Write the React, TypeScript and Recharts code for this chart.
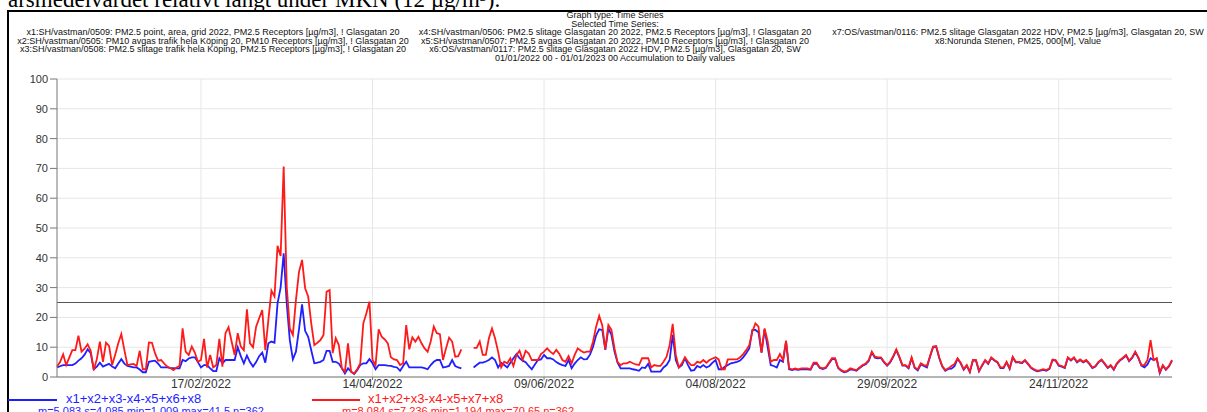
import React from 'react'
import { LineChart, Line, XAxis, YAxis, CartesianGrid, ReferenceLine } from 'recharts'

// daily PM2.5 sums, 2022-01-01 .. 2022-12-31 (null = missing day)
const sumWithX6: (number | null)[] = [
  3.2, 3.6, 4, 4, 4, 4, 4.5, 5.5, 6.3, 7.5,
  9.3, 8, 2.6, 3.5, 4.8, 3.5, 4, 4.4, 3.5, 2.9,
  4.5, 6, 4.5, 3.7, 3.5, 3.2, 3.2, 2.5, 1.6, 1.6,
  5.1, 5.3, 5.5, 4.5, 3.2, 3.2, 3.2, 3, 3, 2.9,
  2.9, 5.7, 5.3, 6.2, 6.6, 6.6, 5, 3.2, 4, 4,
  2.9, 2, 2, 6.3, 4.6, 5.7, 5.7, 5.7, 5.7, 10,
  7, 4.6, 7.2, 5, 3.5, 5, 7, 8.2, 4.8, 11.3,
  11.9, 11.5, 24.7, 30, 41.5, 24.7, 12.4, 5.9, 8.5, 16,
  24.4, 15.5, 13.5, 9, 4.6, 4.8, 5.1, 5.7, 8.8, 8.8,
  5.1, 5.1, 4.5, 2.9, 1.2, 2.9, 1.8, 1.009, 2.3, 4,
  4.6, 4.6, 6, 4.6, 2.6, 4, 4, 4, 3.8, 3.7,
  3.4, 3.2, 2.1, 3.7, 5.1, 3.2, 3.2, 3.2, 3.2, 3.2,
  3, 2.6, 4, 5.1, 5.7, 5.7, 3.2, 3.4, 3.7, 5.7,
  3.7, 3.2, 2.9, null, null, null, 3.2, 4, 4.8, 4.8,
  5.2, 5.7, 6.6, 5.7, 3.2, 4.8, 4, 3.2, 4.8, 6.3,
  7.7, 6.3, 5.5, 5, 3.7, 2.6, 4.2, 5.7, 5.9, 7.4,
  6.3, 6.3, 5.9, 5, 4.4, 4, 3.7, 5.7, 2.9, 4.5,
  5.7, 6.6, 5.9, 6, 7.5, 10.2, 14, 16, 15.8, 9.1,
  16.3, 14.1, 8.5, 4.8, 2.9, 2.9, 2.9, 2.9, 2.6, 2.4,
  2.1, 3.2, 3, 4.4, 1.8, 1.8, 1.8, 1.8, 3.2, 4,
  5.7, 14.1, 5.7, 3.2, 4, 6.3, 4, 2.1, 2.3, 3.7,
  3.2, 4, 3.2, 3.7, 4.8, 5.7, 2.6, 2.6, 3.4, 4,
  4.6, 4.8, 5.1, 5.5, 6.6, 8, 9.6, 15.8, 15.8, 15,
  8.2, 16, 10, 4, 3.7, 3.2, 5.7, 5.1, 11.9, 2.6,
  2.3, 2.6, 2.4, 2.6, 2.6, 2.6, 2.4, 4.4, 4.5, 3,
  2.7, 3, 4.5, 6, 6.1, 3, 2.1, 1.6, 1.9, 2.6,
  2.4, 2.1, 3, 3.8, 4.3, 5.4, 8.2, 6.5, 6.3, 6.4,
  4.9, 3.8, 4.9, 6.8, 9, 6.6, 3.8, 3.8, 2.9, 6.3,
  3, 2.2, 4.2, 3.7, 3.2, 6.8, 10, 10.2, 6.4, 3.5,
  2.1, 2.7, 2.8, 3.6, 6.1, 4.6, 2.4, 3.8, 1.6, 5.5,
  5.5, 1.9, 3.8, 5.5, 4.4, 6.4, 5.5, 4.9, 3, 3,
  4.9, 2.7, 6.6, 4.9, 4.9, 4.6, 5.5, 4.3, 3, 2.4,
  1.9, 2.1, 2.4, 2.1, 2.7, 5.7, 5.5, 3.8, 3.5, 3,
  6.4, 5.5, 6.4, 4.9, 5.7, 4.9, 5.5, 4.4, 3, 3.5,
  4.9, 5.7, 4.4, 3, 3.8, 2.4, 4.4, 5.5, 6.3, 7.2,
  5.3, 6.4, 8.3, 6.4, 3.8, 3.2, 4.2, 6.3, 5.7, 6.1,
  1.3, 3.8, 2.4, 3.5, 5.5,
]

const sumWithX7: (number | null)[] = [
  3.5, 5, 7.6, 4, 6.5, 9, 9, 13.9, 8.5, 9.5,
  11, 8.8, 2.3, 6, 11.9, 5.1, 11.5, 10.4, 4, 7.5,
  11.3, 14.4, 9, 4, 4.2, 4.4, 3.7, 8.8, 2.6, 2.6,
  11.6, 11.5, 8, 5.5, 5.7, 4.5, 3.5, 3, 2.3, 3.2,
  3.7, 16.3, 8.5, 7.4, 10.2, 8.2, 5.1, 5.7, 12.8, 3.2,
  7.4, 3.2, 4, 12.8, 3.5, 14.7, 16.7, 11.9, 7.4, 14.7,
  10.2, 9, 22.7, 11.3, 10, 16.9, 19.7, 22.5, 9, 19.1,
  29, 27, 44, 40.6, 70.65, 30.3, 16.3, 14.1, 25.8, 35.3,
  39.3, 29.8, 27, 18, 10.7, 11.5, 12.4, 14.1, 28.6, 29.2,
  8, 13, 10.7, 2.9, 1.8, 11.3, 1.8, 1.194, 2.6, 4.6,
  18, 21.4, 25.3, 5.7, 4, 16, 13.5, 12.6, 11.3, 6.6,
  5.9, 5.7, 4, 4.6, 17.4, 9.3, 13.3, 11.9, 13.5, 11.3,
  9.6, 8.5, 11.9, 16.9, 14.7, 14.4, 5.7, 9.6, 13.2, 11.9,
  6.8, 7, 9.3, null, null, null, 9.8, 9.8, 11.9, 7.4,
  7.4, 13, 16.3, 13, 8.5, 3.2, 5.1, 4.6, 6.3, 3.7,
  7.4, 8.8, 5.7, 8.8, 7.9, 5.7, 5.7, 5.7, 7.7, 8.5,
  9.6, 8.5, 7.7, 9.1, 7.7, 5.7, 5.1, 7, 4.6, 7.4,
  9.6, 8.8, 8.2, 8.5, 8.5, 11.9, 16.9, 20.5, 17.4, 9.3,
  17.4, 15.8, 9.6, 5, 4, 4.6, 4.6, 5.1, 4.6, 4.2,
  4, 6.3, 6.3, 6.3, 3.2, 4, 3.7, 3.7, 5.1, 6.8,
  10.7, 17.8, 7.4, 3.2, 4.6, 6.6, 5.1, 4, 4, 5.1,
  4.8, 5.7, 4.8, 5.7, 6.2, 6.6, 5.9, 2.6, 2.6, 5.9,
  5.9, 5.9, 5.9, 6.6, 7.7, 9, 10.7, 15.2, 18, 16.9,
  8.2, 16.3, 12, 5.1, 5.7, 5.7, 7.7, 5.7, 12.2, 2.9,
  2.6, 2.9, 2.6, 2.9, 2.9, 2.9, 2.6, 4.8, 4.8, 3.2,
  2.9, 3.2, 4.8, 6.3, 6.3, 3.2, 2.3, 1.8, 2.1, 2.9,
  2.6, 2.3, 3.2, 4, 4.5, 5.7, 8.5, 6.8, 6.6, 6.6,
  5.1, 4, 5.1, 7, 9.3, 6.8, 4, 4, 3.2, 6.6,
  3.2, 2.6, 4.6, 4, 3.7, 7, 10.2, 10.4, 6.6, 3.7,
  2.3, 2.9, 3.7, 4.4, 6.3, 4.8, 2.6, 4, 1.8, 5.7,
  5.7, 2.1, 4, 5.7, 4.6, 6.6, 5.7, 5.1, 3.2, 3.2,
  5.1, 2.9, 6.8, 5.1, 5.1, 4.8, 5.7, 4.5, 3.2, 2.6,
  2.1, 2.3, 2.6, 2.3, 2.9, 5.9, 5.7, 4, 3.7, 3.2,
  6.6, 5.7, 6.6, 5.1, 5.9, 5.1, 5.7, 4.6, 3.2, 3.7,
  5.1, 5.9, 4.6, 3.2, 4, 2.6, 4.6, 5.7, 6.5, 7.4,
  5.5, 6.6, 8.5, 6.6, 4, 4, 5.7, 12.4, 5.7, 6.3,
  1.5, 4, 2.6, 3.7, 5.7,
]

const tickDays = [47, 103, 159, 215, 271, 327]
const tickLabels = ['17/02/2022', '14/04/2022', '09/06/2022', '04/08/2022', '29/09/2022', '24/11/2022']
const yTicks = [0, 10, 20, 30, 40, 50, 60, 70, 80, 90, 100]
const limitValue = 25

const headerLeft = [
  'x1:SH/vastman/0509: PM2.5 point, area, grid 2022, PM2.5 Receptors [µg/m3], ! Glasgatan 20',
  'x2:SH/vastman/0505: PM10 avgas trafik hela Köping 20, PM10 Receptors [µg/m3], ! Glasgatan 20',
  'x3:SH/vastman/0508: PM2.5 slitage trafik hela Köping, PM2.5 Receptors [µg/m3], ! Glasgatan 20',
]
const headerMiddle = [
  'Graph type: Time Series',
  'Selected Time Series:',
  'x4:SH/vastman/0506: PM2.5 slitage Glasgatan 20 2022, PM2.5 Receptors [µg/m3], ! Glasgatan 20',
  'x5:SH/vastman/0507: PM2.5 avgas Glasgatan 20 2022, PM10 Receptors [µg/m3], ! Glasgatan 20',
  'x6:OS/vastman/0117: PM2.5 slitage Glasgatan 2022 HDV, PM2.5 [µg/m3], Glasgatan 20, SW',
  '01/01/2022 00 - 01/01/2023 00  Accumulation to Daily values',
]
const headerRight = [
  'x7:OS/vastman/0116: PM2.5 slitage Glasgatan 2022 HDV, PM2.5 [µg/m3], Glasgatan 20, SW',
  'x8:Norunda Stenen, PM25, 000[M], Value',
]

const BLUE = '#1f1fff'
const RED = '#ff1a1a'
const sans = '"Liberation Sans", Arial, sans-serif'

const rows = sumWithX6.map((v, i) => ({ day: i, blue: v, red: sumWithX7[i] }))

const HeaderBlock = ({ lines, center, top }: { lines: string[], center: number, top: number }) => (
  <div style={{
    position: 'absolute', left: center - 300, width: 600, top,
    textAlign: 'center', fontFamily: sans, fontSize: 9, lineHeight: '8.6px',
    whiteSpace: 'nowrap', color: '#111'
  }}>
    {lines.map((l) => <div key={l}>{l}</div>)}
  </div>
)

const App = () => {
  return (
    <div style={{ position: 'fixed', left: 0, top: 0, width: 1207, height: 412, overflow: 'hidden', background: '#fff' }}>
      <div style={{
        position: 'absolute', left: 8, top: -12, fontFamily: '"Liberation Serif", "Times New Roman", serif',
        fontSize: 23, lineHeight: '23px', whiteSpace: 'nowrap', color: '#000'
      }}>
        årsmedelvärdet relativt långt under MKN (12 µg/m³).
      </div>
      <div style={{ position: 'absolute', left: 7, top: 10, width: 1400, height: 600, border: '2px solid #000' }} />

      <HeaderBlock lines={headerLeft} center={213} top={28} />
      <HeaderBlock lines={headerMiddle} center={615} top={11} />
      <HeaderBlock lines={headerRight} center={1018} top={28} />

      <div style={{ position: 'absolute', left: 0, top: 0 }}>
        <LineChart width={1207} height={412} data={rows} margin={{ top: 79, right: 35, bottom: 5, left: 7 }}>
          <CartesianGrid stroke="#e6e6e6" horizontalValues={yTicks} verticalValues={tickDays} />
          <XAxis
            type="number"
            dataKey="day"
            domain={[0, 364]}
            ticks={tickDays}
            tickFormatter={(d: number) => tickLabels[tickDays.indexOf(d)]}
            height={30}
            tickSize={3}
            tickMargin={-1}
            stroke="#777"
            tick={{ fontSize: 12, fill: '#333', fontFamily: sans }}
          />
          <YAxis
            type="number"
            domain={[0, 100]}
            ticks={yTicks}
            width={50}
            tickSize={7}
            tickMargin={2}
            stroke="#777"
            tick={{ fontSize: 11, fill: '#333', fontFamily: sans }}
          />
          <ReferenceLine y={limitValue} stroke="#555" strokeWidth={1.2} />
          <Line type="linear" dataKey="blue" stroke={BLUE} strokeWidth={1.8} dot={false} isAnimationActive={false} />
          <Line type="linear" dataKey="red" stroke={RED} strokeWidth={1.8} dot={false} isAnimationActive={false} />
        </LineChart>
      </div>

      <div style={{ position: 'absolute', left: 8, top: 399, width: 49, height: 1.6, background: BLUE }} />
      <div style={{ position: 'absolute', left: 66, top: 392, fontFamily: sans, fontSize: 13, lineHeight: '14px', color: BLUE, whiteSpace: 'nowrap' }}>
        x1+x2+x3-x4-x5+x6+x8
      </div>
      <div style={{ position: 'absolute', left: 38, top: 405, fontFamily: sans, fontSize: 11, lineHeight: '12px', color: BLUE, whiteSpace: 'nowrap' }}>
        m=5.083 s=4.085 min=1.009 max=41.5 n=362
      </div>
      <div style={{ position: 'absolute', left: 312, top: 399, width: 48, height: 1.6, background: RED }} />
      <div style={{ position: 'absolute', left: 368, top: 392, fontFamily: sans, fontSize: 13, lineHeight: '14px', color: RED, whiteSpace: 'nowrap' }}>
        x1+x2+x3-x4-x5+x7+x8
      </div>
      <div style={{ position: 'absolute', left: 342, top: 405, fontFamily: sans, fontSize: 11, lineHeight: '12px', color: RED, whiteSpace: 'nowrap' }}>
        m=8.084 s=7.236 min=1.194 max=70.65 n=362
      </div>
    </div>
  )
}

export default App
